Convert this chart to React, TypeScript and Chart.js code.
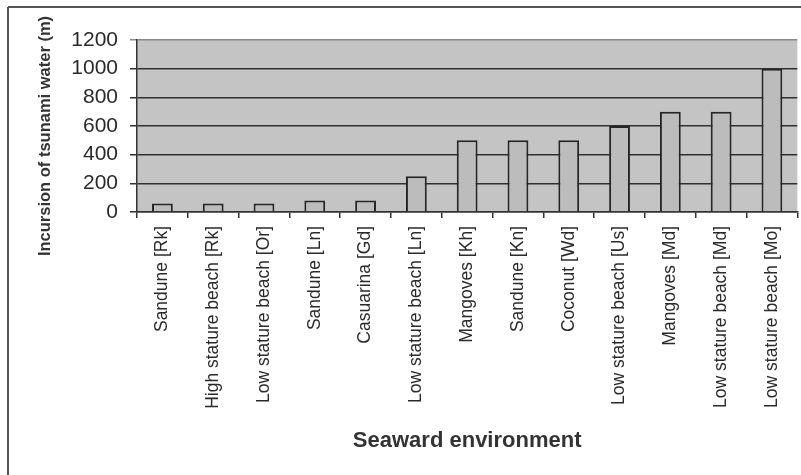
import React, { useEffect, useRef } from "react";
import { Chart, registerables } from "chart.js";

Chart.register(...registerables);

const categories: string[] = [
  "Sandune [Rk]",
  "High stature beach [Rk]",
  "Low stature beach [Or]",
  "Sandune [Ln]",
  "Casuarina [Gd]",
  "Low stature beach [Ln]",
  "Mangoves [Kh]",
  "Sandune [Kn]",
  "Coconut [Wd]",
  "Low stature beach [Us]",
  "Mangoves [Md]",
  "Low stature beach [Md]",
  "Low stature beach [Mo]",
];

const incursion: number[] = [60, 60, 60, 80, 80, 250, 500, 500, 500, 600, 700, 700, 1000];

const yMin = 0;
const yMax = 1200;
const yStep = 200;

const yTitle = "Incursion of tsunami water (m)";
const xTitle = "Seaward environment";

const FONT = "'Liberation Sans', Arial, Helvetica, sans-serif";

export default function App() {
  const canvasRef = useRef<HTMLCanvasElement | null>(null);

  useEffect(() => {
    const canvas = canvasRef.current;
    if (!canvas) return;

    const bgPlugin = {
      id: "plotBg",
      beforeDraw(chart: any) {
        const { ctx, chartArea } = chart;
        ctx.save();
        ctx.fillStyle = "#ffffff";
        ctx.fillRect(0, 0, chart.width, chart.height);
        ctx.fillStyle = "#c4c4c4";
        ctx.fillRect(chartArea.left, chartArea.top, chartArea.right - chartArea.left, chartArea.bottom - chartArea.top);
        ctx.restore();
      },
      afterDraw(chart: any) {
        const { ctx } = chart;
        ctx.save();
        ctx.strokeStyle = "#555555";
        ctx.lineWidth = 2;
        ctx.beginPath();
        ctx.moveTo(8, 7);
        ctx.lineTo(chart.width, 7);
        ctx.moveTo(8, 7);
        ctx.lineTo(8, chart.height);
        ctx.stroke();
        // y axis title
        ctx.translate(45, 136);
        ctx.rotate(-Math.PI / 2);
        ctx.fillStyle = "#333333";
        ctx.font = `bold 16.5px ${FONT}`;
        ctx.textAlign = "center";
        ctx.textBaseline = "middle";
        ctx.fillText(yTitle, 0, 0);
        ctx.restore();
      },
    };

    const chart = new Chart(canvas, {
      type: "bar",
      data: {
        labels: categories,
        datasets: [
          {
            data: incursion,
            backgroundColor: "#bcbcbc",
            borderColor: "#262626",
            borderWidth: 2,
            borderSkipped: "start",
            categoryPercentage: 1,
            barPercentage: 0.41,
          },
        ],
      },
      options: {
        responsive: false,
        animation: false,
        layout: { padding: { left: 0, top: 40, right: 2, bottom: 0 } },
        plugins: {
          legend: { display: false },
          tooltip: { enabled: false },
        },
        scales: {
          x: {
            afterFit(scale: any) {
              scale.height = 263;
            },
            grid: {
              display: true,
              offset: true,
              drawOnChartArea: false,
              drawTicks: true,
              tickLength: 6,
              color: "#333333",
              lineWidth: 1.5,
            },
            border: { display: true, color: "#333333", width: 1.5 },
            ticks: {
              autoSkip: false,
              maxRotation: 90,
              minRotation: 90,
              padding: 8,
              color: "#2a2a2a",
              font: { family: FONT, size: 17.5 },
            },
            title: {
              display: true,
              text: xTitle,
              color: "#333333",
              font: { family: FONT, size: 22, weight: "bold" },
              padding: { top: 0, bottom: 21 },
            },
          },
          y: {
            min: yMin,
            max: yMax,
            afterFit(scale: any) {
              scale.width = 137;
            },
            grid: {
              display: true,
              drawTicks: true,
              tickLength: 7,
              color: (ctx: any) => (ctx.tick && ctx.tick.value === yMax ? "#8a8a8a" : "#303030"),
              lineWidth: 1.5,
            },
            border: { display: true, color: "#333333", width: 1.5 },
            ticks: {
              stepSize: yStep,
              padding: 12,
              color: "#2a2a2a",
              font: { family: FONT, size: 21 },
              callback: (v: any) => String(v),
            },
            title: { display: false },
          },
        },
      },
      plugins: [bgPlugin],
    } as any);

    return () => {
      chart.destroy();
    };
  }, []);

  return (
    <div style={{ position: "absolute", left: 0, top: 0, width: 801, height: 475, overflow: "hidden" }}>
      <canvas ref={canvasRef} width={801} height={475} style={{ display: "block", width: 801, height: 475 }} />
    </div>
  );
}
